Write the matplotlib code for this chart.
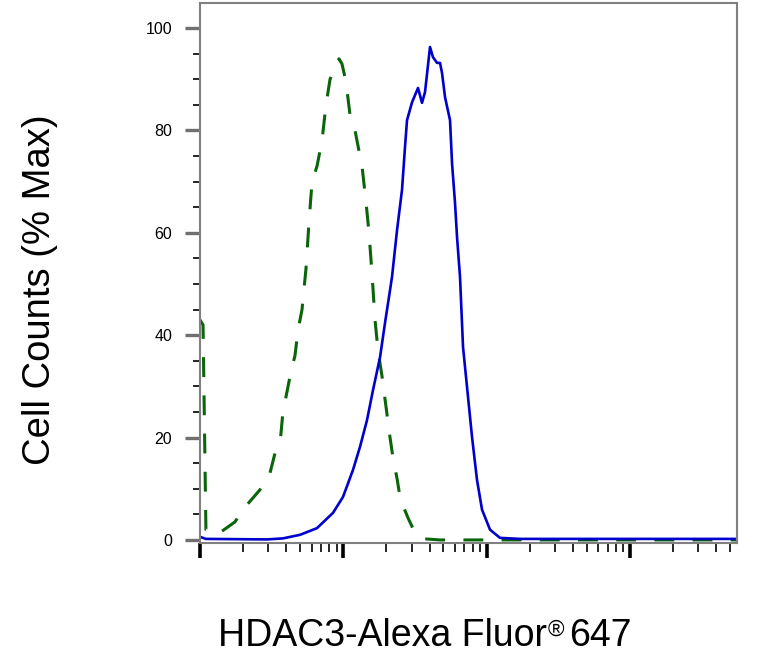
import numpy as np
import matplotlib
matplotlib.use('Agg')
import matplotlib.pyplot as plt
from matplotlib.ticker import NullFormatter, MultipleLocator, LogLocator

plt.rcParams['font.family'] = ['Liberation Sans', 'DejaVu Sans']

# isotype control (green, dashed)
ctrl_x = [10, 10.5, 11, 13.1, 17.5, 20.6, 26.2, 30.8, 33.4, 36.5, 37.9, 40.5, 43.2,
          46.0, 48.3, 51.5, 54.9, 57.6, 60.5, 65.5, 71.0, 75.7, 80.8, 88.9, 93.3,
          97.9, 104.4, 111.4, 118.8, 126.6, 135.1, 144.0, 151.1, 158.6, 166.4,
          174.6, 186.2, 198.6, 211.8, 222.3, 237.0, 248.7, 265.2, 282.8, 306.5,
          332.1, 371.6, 473, 652, 55850]
ctrl_y = [43, 42, 2, 1, 3.5, 6.4, 9.8, 13.1, 17, 20, 25, 29, 33,
          36, 41, 45, 53, 62, 70, 73, 78, 85, 90, 93, 94,
          93, 89.5, 83, 81, 77, 73, 66, 60, 52, 43,
          37, 32, 26, 20, 16, 12, 8.4, 6.2, 4.3, 2.2,
          0.6, 0.2, 0, 0, 0]

# HDAC3 stained (blue, solid)
hdac_x = [10, 11, 29.4, 37.9, 49.9, 65.5, 84.8, 99.5, 116.9, 130.8, 146.3, 161.2,
          180.4, 195.4, 211.8, 218.7, 237.0, 256.8, 269.5, 278.3, 301.7, 332.1,
          354.1, 371.6, 402.7, 422.7, 450.8, 473.0, 488.5, 512.6, 555.4, 573.6,
          601.9, 621.5, 652.0, 684.4, 741.8, 791.0, 857.0, 928.9, 1056, 1240,
          1710, 55850]
hdac_y = [0.6, 0.2, 0.1, 0.3, 1.0, 2.3, 5.3, 8.4, 13.7, 18.2, 23.4, 29.3,
          35.7, 42.4, 48.8, 51.4, 60.5, 68.4, 76.8, 82, 85.5, 88.3,
          85.4, 87.5, 96.3, 94.3, 93.2, 93.2, 91.2, 86.5, 82, 73.6,
          65.8, 59.2, 51.4, 37.7, 27.9, 20.1, 11.7, 5.9, 2.0, 0.4,
          0.2, 0.2]

yticks = [0, 20, 40, 60, 80, 100]

fig = plt.figure(figsize=(7.58, 6.65), dpi=100)
ax = fig.add_axes([200/758, 1 - 543/665, 537/758, 540/665])

ax.plot(ctrl_x, ctrl_y, color='#0a640a', linewidth=2.2, dashes=(6.5, 6))
ax.plot(hdac_x, hdac_y, color='#0000cc', linewidth=1.9)

ax.set_xscale('log')
ax.set_xlim(10, 55850)
ax.set_ylim(-0.6, 104.9)

ax.xaxis.set_major_locator(LogLocator(base=10))
ax.xaxis.set_minor_locator(LogLocator(base=10, subs=np.arange(2, 10)))
ax.xaxis.set_major_formatter(NullFormatter())
ax.xaxis.set_minor_formatter(NullFormatter())
ax.tick_params(axis='x', which='major', length=11, width=2.6, color='black')
ax.tick_params(axis='x', which='minor', length=6.5, width=1.2, color='black')

ax.set_yticks(yticks)
ax.yaxis.set_minor_locator(MultipleLocator(5))
ax.tick_params(axis='y', which='major', length=11, width=2.4, color='#707070',
               labelsize=11.5, pad=9)
ax.tick_params(axis='y', which='minor', length=5, width=1.2, color='black')

for s in ax.spines.values():
    s.set_color('#808080')
    s.set_linewidth(1.5)

# axis titles
fig.text(40/758, 1 - 290/665, 'Cell Counts (% Max)', rotation=90,
         fontsize=27.5, ha='center', va='center')

fig.canvas.draw()
r = fig.canvas.get_renderer()
base = (665 - 646) / 665
t1 = fig.text(218/758, base, 'HDAC3-Alexa Fluor', fontsize=27, va='baseline')
e1 = t1.get_window_extent(r)
t2 = fig.text((e1.x1 + 1) / 758, base + 10/665, '\u00ae', fontsize=16, va='baseline')
e2 = t2.get_window_extent(r)
fig.text((e2.x1 + 5) / 758, base, '647', fontsize=27, va='baseline')

plt.savefig('out.png', dpi=100)
